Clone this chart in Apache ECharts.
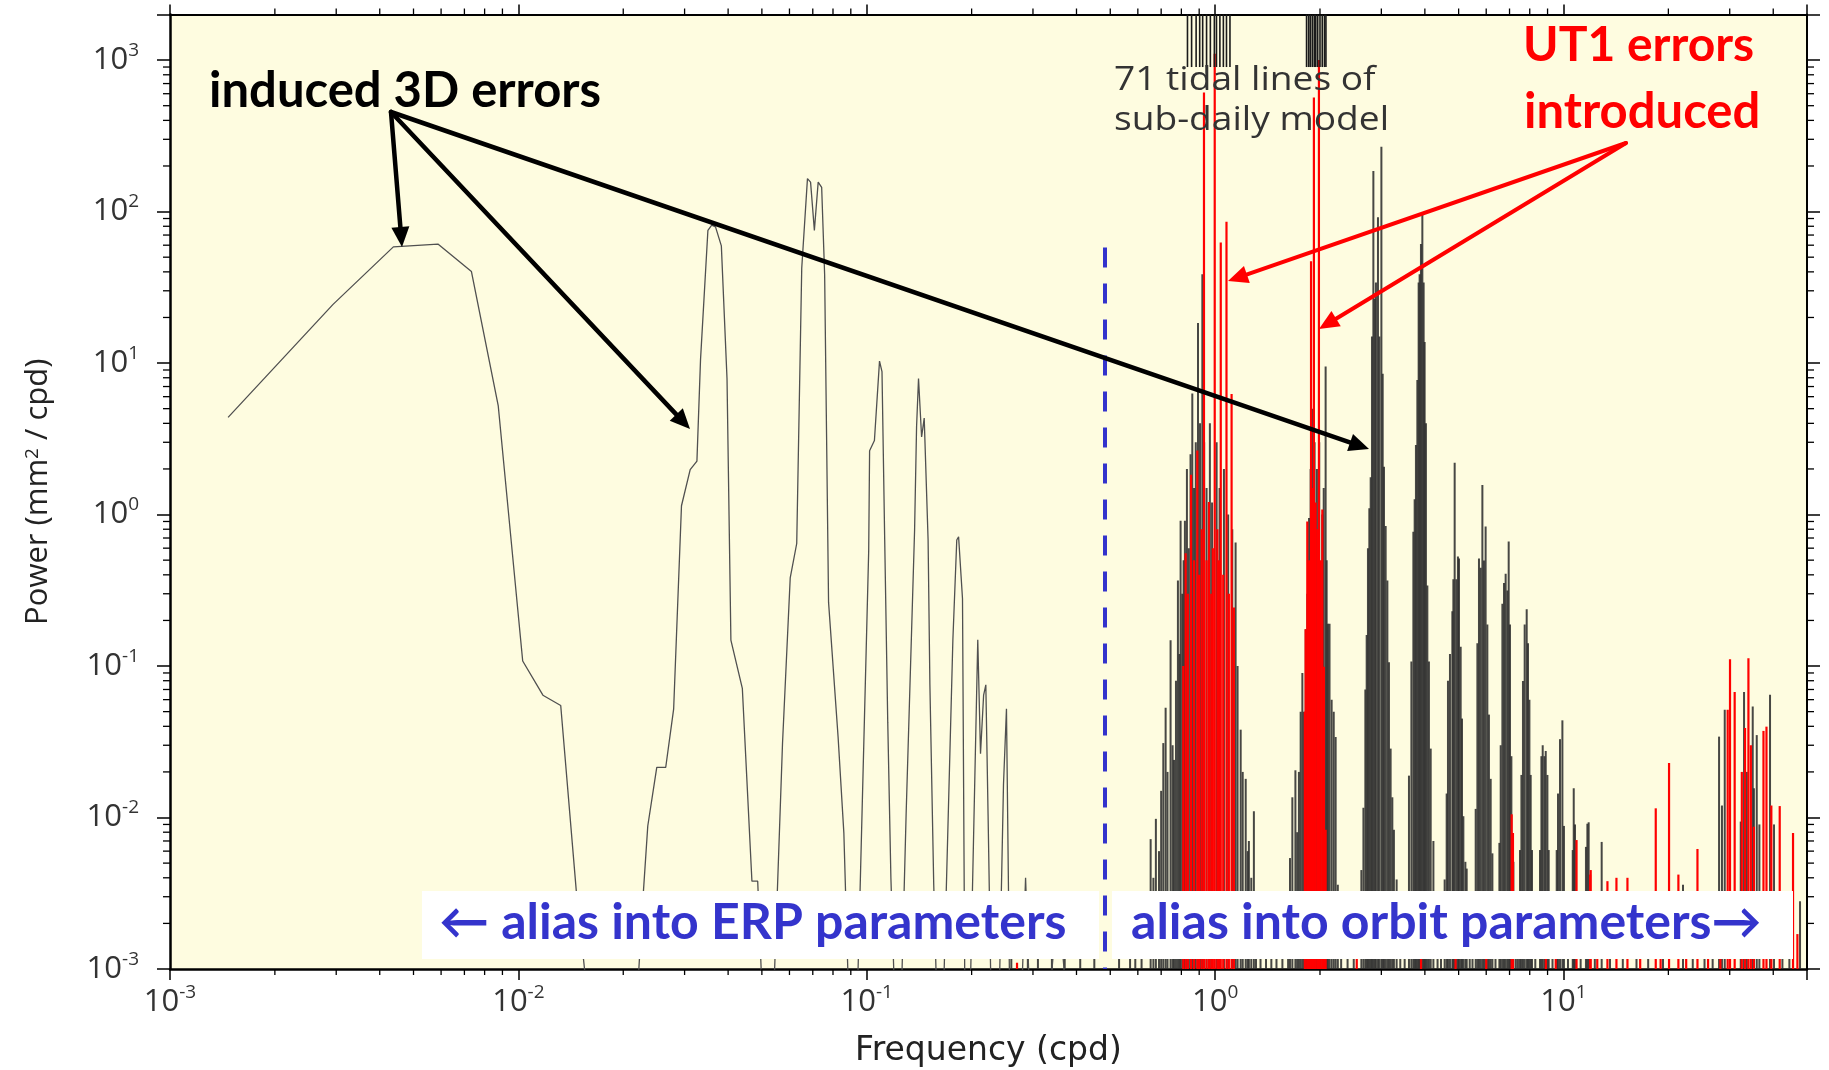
<!DOCTYPE html>
<html>
<head>
<meta charset="utf-8">
<script src="https://cdn.jsdelivr.net/npm/echarts@6/dist/echarts.min.js"></script>
<style>
html,body{margin:0;padding:0;background:#fff;}
#chart{width:1829px;height:1070px;}
</style>
</head>
<body>
<div id="chart"></div>
<script>
// ---------------- data ----------------
// continuous low-frequency spectrum (grey curve): frequency (cpd) and power (mm^2/cpd)
const lowFreq = [0.001468,0.002938,0.004377,0.005876,0.007333,0.008755,0.01029,0.01176,0.01323,0.01467,0.01615,0.0190,0.0215,0.02285,0.02352,0.02496,0.02648,0.02791,0.02939,0.03113,0.03255,0.03333,0.0350,0.03589,0.0368,0.03825,0.03971,0.04074,0.04394,0.04682,0.04864,0.05055,0.05364,0.05731,0.0603,0.06295,0.06507,0.06758,0.06898,0.07074,0.07254,0.07423,0.07571,0.07769,0.08273,0.08596,0.08925,0.09348,0.1013,0.1019,0.1052,0.1088,0.1106,0.1126,0.1149,0.1173,0.121,0.125,0.1297,0.1372,0.139,0.1408,0.1437,0.1462,0.150,0.1518,0.1557,0.1597,0.1651,0.1767,0.1813,0.1835,0.1883,0.1915,0.1972,0.2083,0.2121,0.2165,0.2197,0.2230,0.2282,0.2390,0.2469,0.2518,0.2578,0.2764,0.2857,0.2953,0.33,0.354,0.38];
const lowPower = [4.38,24.4,58.5,61.0,40.2,5.21,0.108,0.0642,0.0549,0.00324,0.0004,0.0001,0.0003,0.00324,0.00879,0.0214,0.0214,0.0522,1.143,1.977,2.253,10.5,75.2,81.4,79.3,59.4,7.91,0.1484,0.0713,0.0038,0.0038,0.0004,0.0004,0.0309,0.3814,0.644,42.3,165,156.6,75.2,156.6,144.7,38.1,0.264,0.0343,0.0079,0.0004,0.0004,0.579,2.64,3.08,10.3,8.79,0.682,0.0423,0.004,0.0004,0.0004,0.0103,0.794,3.80,7.91,3.25,4.33,0.682,0.0751,0.0036,0.0004,0.0004,0.149,0.679,0.714,0.278,0.0004,0.0004,0.149,0.0264,0.0642,0.0751,0.0103,0.0004,0.0004,0.0165,0.0522,0.0004,0.0004,0.004,0.0004,0.0004,0.0032,0.0004];

// dense line spectrum above ~0.6 cpd, grey (3D errors): [frequency, power]
const greyLines = [
 [0.615,0.003],[0.653,0.0072],[0.665,0.004],[0.676,0.0098],[0.69,0.006],[0.70,0.015],[0.71,0.031],[0.721,0.053],[0.73,0.02],[0.745,0.148],[0.755,0.03],[0.762,0.024],[0.772,0.08],[0.782,0.367],[0.79,0.12],[0.796,0.91],[0.805,0.3],[0.812,0.5],[0.819,0.91],[0.83,2.0],[0.84,0.6],[0.85,2.5],[0.86,6.3],[0.87,1.5],[0.88,3.0],[0.893,18.4],[0.905,4.0],[0.919,38.6],[0.93,3.0],[0.945,1.5],[0.966,4.0],[0.98,1.2],[1.01,3.0],[1.03,1.5],[1.06,2.0],[1.09,1.0],[1.12,0.8],[1.145,0.653],[1.16,0.1],[1.184,0.038],[1.2,0.02],[1.224,0.018],[1.24,0.006],[1.25,0.007],[1.27,0.004],[1.292,0.011],[1.31,0.003],
 [1.62,0.003],[1.64,0.0054],[1.666,0.0136],[1.70,0.0205],[1.72,0.008],[1.74,0.02],[1.76,0.05],[1.78,0.09],[1.80,0.05],[1.82,0.175],[1.84,0.3],[1.86,0.95],[1.88,2.0],[1.90,5.0],[1.93,3.0],[1.96,2.0],[1.99,3.0],[2.03,1.0],[2.05,1.5],[2.076,9.5],[2.09,0.5],[2.108,0.19],[2.13,0.19],[2.16,0.06],[2.19,0.05],[2.218,0.034],[2.25,0.0036],
 [2.629,0.0045],[2.665,0.0116],[2.699,0.07],[2.723,0.16],[2.746,0.60],[2.771,1.1],[2.796,1.76],[2.82,15],[2.846,185],[2.871,26.6],[2.895,34],[2.934,91.8],[2.961,15],[3.001,268],[3.027,8.5],[3.053,2.07],[3.087,0.84],[3.122,0.367],[3.155,0.106],[3.19,0.0285],[3.226,0.0136],[3.26,0.0083],[3.319,0.0039],
 [3.601,0.0189],[3.659,0.107],[3.707,0.77],[3.739,1.26],[3.771,2.88],[3.806,7.74],[3.839,34],[3.864,38.6],[3.898,61],[3.934,95.7],[3.968,34],[3.994,13.8],[4.028,4.0],[4.066,0.34],[4.109,0.107],[4.157,0.0285],[4.232,0.007],
 [4.559,0.0039],[4.62,0.0144],[4.66,0.08],[4.722,0.12],[4.797,0.23],[4.829,0.374],[4.871,2.2],[4.925,0.374],[4.977,0.528],[5.012,0.513],[5.068,0.134],[5.112,0.045],[5.159,0.0102],[5.228,0.0051],[5.274,0.0046],
 [5.597,0.0114],[5.66,0.1415],[5.72,0.513],[5.785,0.445],[5.85,1.57],[5.911,0.498],[5.977,0.834],[6.045,0.188],[6.109,0.0478],[6.18,0.018],[6.25,0.0058],
 [6.546,0.0068],[6.603,0.03],[6.677,0.258],[6.749,0.353],[6.823,0.407],[6.901,0.315],[6.961,0.663],[7.021,0.188],[7.086,0.0254],[7.181,0.0051],
 [7.502,0.0061],[7.571,0.0191],[7.65,0.0798],[7.737,0.188],[7.841,0.237],[7.909,0.1415],[7.982,0.0599],[8.051,0.0191],[8.121,0.0061],
 [8.56,0.0061],[8.641,0.0254],[8.716,0.03],[8.814,0.0254],[8.892,0.0275],[8.991,0.0191],[9.069,0.0061],
 [9.561,0.0061],[9.643,0.0144],[9.772,0.0329],[9.927,0.0438],[10.03,0.0088],
 [10.63,0.0061],[10.7,0.0156],[10.79,0.009],
 [11.6,0.0064],[11.71,0.0091],[11.81,0.0093],
 [12.87,0.0069],
 [22.03,0.0036],[27.96,0.0342],[28.5,0.012],[29.03,0.0514],[32.27,0.0094],[32.98,0.0675],[33.6,0.02],[34.93,0.054],[35.2,0.0156],[35.87,0.035],[36.5,0.009],[39.16,0.0646],[40.21,0.009],[44.5,0.003],[47.75,0.0028],
 [0.26,0.0015],[0.29,0.0014],[0.31,0.0016],[0.34,0.0014],[0.37,0.0015],[0.41,0.0014],[0.45,0.0013],[0.53,0.0014],[0.57,0.0016],[0.59,0.0018],[1.35,0.0017],[1.4,0.0015],[1.45,0.0016],[1.5,0.0014],[1.56,0.0015],[2.3,0.0018],[2.4,0.0016],[2.5,0.0015],[3.4,0.0016],[3.5,0.0015],[4.35,0.0016],[4.45,0.0015],[5.38,0.0015],[5.48,0.0016],[6.38,0.0015],[7.3,0.0016],[7.4,0.0015],[8.3,0.0016],[9.3,0.0015],[10.3,0.0016],[11.2,0.0015],[12.3,0.0014],[13.6,0.0015],[14.8,0.0014],[16.2,0.0015],[17.5,0.0014],[19.3,0.0015],[23.5,0.0014],[25.4,0.0015],[26.8,0.0014],[42.5,0.0016]
];

// red line spectrum (UT1 errors introduced): [frequency, power]
const redLines = [
 [0.81,0.1],[0.823,0.555],[0.835,0.3],[0.853,1.83],[0.87,0.5],[0.889,2.65],[0.90,0.4],[0.915,0.8],[0.929,611],[0.945,0.5],[0.96,1.21],[0.975,0.3],[0.985,0.6],[0.9974,1100],[1.015,0.8],[1.025,0.5],[1.038,62.6],[1.055,0.4],[1.078,85.8],[1.095,0.3],[1.115,6.25],[1.132,0.243],
 [1.81,0.05],[1.819,0.175],[1.839,0.9],[1.86,0.5],[1.885,47],[1.90,1.5],[1.921,566],[1.943,1.2],[1.965,0.8],[1.986,1000],[2.009,0.5],[2.031,1.08],[2.053,0.099],[2.076,0.0083],
 [7.1,0.0105],[7.16,0.0079],[10.9,0.0071],[11.92,0.0042],[11.97,0.0045],[13.37,0.0038],[14.19,0.004],[15.26,0.004],[18.4,0.0115],[20.09,0.0229],[21.37,0.0042],[24.24,0.0062],[29.6,0.0514],[30.06,0.111],[31.0,0.0673],[32.5,0.02],[33.2,0.039],[33.95,0.1127],[34.5,0.03],[35.2,0.0087],[37.5,0.0373],[38.25,0.0398],[39.5,0.012],[41.75,0.0119],[45.59,0.0079],[46.93,0.0017],
 [0.27,0.0011],[2.55,0.0015],[3.9,0.0014],[4.9,0.0015],[6.0,0.0014],[8.9,0.0015],[9.5,0.0014],[12.5,0.0015],[16.6,0.0014],[19.0,0.0016],[22.5,0.0015],[26.0,0.0014],[28.2,0.0016]
];

// frequencies of the tidal lines of the sub-daily model (marks along the top)
const tidalLines = [0.833,0.856,0.882,0.903,0.921,0.945,0.969,0.995,1.009,1.032,1.056,1.078,1.103,1.83,1.855,1.875,1.9,1.925,1.945,1.97,2.0,2.03,2.06,2.08];
const tidalMarkEnd = 900;       // power level where the tidal marks stop
const erpOrbitBoundary = 0.483; // blue dashed separator (cpd)
const boundaryTop = 58;         // power level where the dashed line starts

// axis ranges and minor tick values
const xMin = 0.001, xMax = 50, yMin = 0.001, yMax = 2000;
const xMinorTicks = [0.002,0.003,0.004,0.005,0.006,0.007,0.008,0.009,0.02,0.03,0.04,0.05,0.06,0.07,0.08,0.09,0.2,0.3,0.4,0.5,0.6,0.7,0.8,0.9,2,3,4,5,6,7,8,9,20,30,40];
const yMinorTicks = [0.002,0.003,0.004,0.005,0.006,0.007,0.008,0.009,0.02,0.03,0.04,0.05,0.06,0.07,0.08,0.09,0.2,0.3,0.4,0.5,0.6,0.7,0.8,0.9,2,3,4,5,6,7,8,9,20,30,40,50,60,70,80,90,200,300,400,500,600,700,800,900];

// ---------------- chart ----------------
const chart = echarts.init(document.getElementById('chart'), null, {renderer: 'canvas'});

const tickFont = 'Open Sans';
function powLabel(v) {
  const l = Math.log10(v), r = Math.round(l);
  if (Math.abs(l - r) > 1e-6) return '';
  return '{b|10}{s|' + r + '}';
}
const labelRich = {
  b: {fontFamily: tickFont, fontSize: 31, color: '#333', lineHeight: 38},
  s: {fontFamily: tickFont, fontSize: 19, color: '#333', lineHeight: 22, verticalAlign: 'top'}
};

function stems(color, width) {
  return function (params, api) {
    const cs = params.coordSys;
    const top = api.coord([api.value(0), api.value(1)]);
    return {type: 'line', silent: true,
      shape: {x1: top[0], y1: Math.max(top[1], cs.y), x2: top[0], y2: cs.y + cs.height},
      style: {stroke: color, lineWidth: width}};
  };
}

function arrow(x1, y1, x2, y2, color, w, L, H) {
  const dx = x2 - x1, dy = y2 - y1, len = Math.hypot(dx, dy), ux = dx / len, uy = dy / len;
  const bx = x2 - ux * L, by = y2 - uy * L;
  return [
    {type: 'line', z: 100, silent: true, shape: {x1: x1, y1: y1, x2: bx + ux * 2, y2: by + uy * 2}, style: {stroke: color, lineWidth: w, lineCap: 'round'}},
    {type: 'polygon', z: 100, silent: true, shape: {points: [[x2, y2], [bx - uy * H, by + ux * H], [bx + uy * H, by - ux * H]]}, style: {fill: color}}
  ];
}

const boldFont = 'Lato';
const graphics = [
  {type: 'rect', z: 90, silent: true, shape: {x: 422, y: 891, width: 677, height: 68}, style: {fill: '#fff'}},
  {type: 'rect', z: 90, silent: true, shape: {x: 1112, y: 891, width: 681, height: 68}, style: {fill: '#fff'}},
  {type: 'text', z: 100, x: 439, y: 923, style: {text: '\u2190 alias into ERP parameters', fontFamily: boldFont, fontWeight: 'bold', fontSize: 50, fill: '#3434CC', verticalAlign: 'middle'}},
  {type: 'text', z: 100, x: 1131, y: 923, style: {text: 'alias into orbit parameters\u2192', fontFamily: boldFont, fontWeight: 'bold', fontSize: 50, fill: '#3434CC', verticalAlign: 'middle'}},
  {type: 'text', z: 100, x: 209, y: 91, style: {text: 'induced 3D errors', fontFamily: boldFont, fontWeight: 'bold', fontSize: 49, fill: '#000', verticalAlign: 'middle'}},
  {type: 'text', z: 100, x: 1523, y: 46, style: {text: 'UT1 errors', fontFamily: boldFont, fontWeight: 'bold', fontSize: 48, fill: '#FF0000', verticalAlign: 'middle'}},
  {type: 'text', z: 100, x: 1524, y: 112, style: {text: 'introduced', fontFamily: boldFont, fontWeight: 'bold', fontSize: 49, fill: '#FF0000', verticalAlign: 'middle'}},
  {type: 'text', z: 80, x: 1114, y: 81, scaleX: 1.16, style: {text: '71 tidal lines of', fontFamily: tickFont, fontSize: 32, fill: '#333', verticalAlign: 'middle'}},
  {type: 'text', z: 80, x: 1114, y: 121, scaleX: 1.16, style: {text: 'sub-daily model', fontFamily: tickFont, fontSize: 32, fill: '#333', verticalAlign: 'middle'}}
]
.concat(arrow(391, 112, 402, 247, '#000', 4.5, 20, 9))
.concat(arrow(391, 112, 690, 429, '#000', 4.5, 20, 9))
.concat(arrow(391, 112, 1369, 449, '#000', 4.5, 20, 9))
.concat(arrow(1626, 143, 1228, 281, '#FF0000', 4, 20, 9))
.concat(arrow(1626, 143, 1319, 329, '#FF0000', 4, 20, 9));

const axisLineStyle = {color: '#000', width: 2.5};
const tickStyle = {color: '#000', width: 1.5};

const option = {
  animation: false,
  backgroundColor: '#fff',
  grid: {left: 170, right: 22, top: 14.5, bottom: 101, show: true, backgroundColor: '#FEFCE0', borderWidth: 0,
         containLabel: false, outerBoundsMode: 'none'},
  xAxis: [
    {type: 'log', logBase: 10, min: xMin, max: xMax, position: 'bottom',
     axisLine: {show: true, onZero: false, lineStyle: axisLineStyle},
     axisTick: {show: true, length: 11, lineStyle: tickStyle},
     axisLabel: {formatter: powLabel, rich: labelRich, margin: 14, fontSize: 31, fontFamily: tickFont, color: '#333'},
     splitLine: {show: false},
     name: 'Frequency (cpd)', nameLocation: 'middle', nameGap: 66,
     nameTextStyle: {fontFamily: 'DejaVu Sans', fontSize: 33, color: '#222'}},
    {type: 'log', logBase: 10, min: xMin, max: xMax, position: 'top',
     axisLine: {show: true, onZero: false, lineStyle: {color: '#000', width: 2}},
     axisTick: {show: true, length: 10, lineStyle: tickStyle},
     axisLabel: {show: false}, splitLine: {show: false}}
  ],
  yAxis: [
    {type: 'log', logBase: 10, min: yMin, max: yMax, position: 'left',
     axisLine: {show: true, onZero: false, lineStyle: axisLineStyle},
     axisTick: {show: true, length: 13, lineStyle: tickStyle},
     axisLabel: {formatter: powLabel, rich: labelRich, margin: 31, fontSize: 31, fontFamily: tickFont, color: '#333'},
     splitLine: {show: false},
     name: 'Power (mm{s|2} / cpd)', nameLocation: 'middle', nameGap: 116,
     nameTextStyle: {fontFamily: tickFont, fontSize: 31, color: '#222',
       rich: {s: {fontFamily: tickFont, fontSize: 19, color: '#222', verticalAlign: 'top', lineHeight: 20}}}},
    {type: 'log', logBase: 10, min: yMin, max: yMax, position: 'right',
     axisLine: {show: true, onZero: false, lineStyle: {color: '#000', width: 2}},
     axisTick: {show: true, length: 13, lineStyle: tickStyle},
     axisLabel: {show: false}, splitLine: {show: false}}
  ],
  series: [
    {type: 'line', name: 'low-frequency spectrum', data: lowFreq.map((f, i) => [f, lowPower[i]]),
     showSymbol: false, symbol: 'none', clip: true, z: 3,
     lineStyle: {color: '#505050', width: 1.3},
     markLine: {silent: true, symbol: ['none', 'none'], label: {show: false},
       lineStyle: {color: '#3333CC', width: 4, type: [20, 16]},
       data: [[{coord: [erpOrbitBoundary, boundaryTop]}, {coord: [erpOrbitBoundary, yMin]}]]}},
    {type: 'custom', name: '3D errors', data: greyLines, z: 3, renderItem: stems('rgba(45,45,45,0.88)', 2)},
    {type: 'custom', name: 'UT1 errors', data: redLines, z: 4, renderItem: stems('#FF0000', 2.2)},
    {type: 'custom', name: 'tidal lines', data: tidalLines.map(f => [f, tidalMarkEnd]), z: 5,
     renderItem: function (params, api) {
       const cs = params.coordSys;
       const p = api.coord([api.value(0), api.value(1)]);
       return {type: 'line', silent: true, shape: {x1: p[0], y1: cs.y, x2: p[0], y2: p[1]}, style: {stroke: '#1a1a1a', lineWidth: 1.6}};
     }},
    {type: 'custom', name: 'x minor ticks', data: xMinorTicks.map(v => [v, 1]), z: 6, clip: false,
     renderItem: function (params, api) {
       const cs = params.coordSys;
       const p = api.coord([api.value(0), 1]);
       return {type: 'group', children: [
         {type: 'line', silent: true, shape: {x1: p[0], y1: cs.y + cs.height, x2: p[0], y2: cs.y + cs.height + 6}, style: {stroke: '#000', lineWidth: 1.3}},
         {type: 'line', silent: true, shape: {x1: p[0], y1: cs.y, x2: p[0], y2: cs.y - 6}, style: {stroke: '#000', lineWidth: 1.3}}
       ]};
     }},
    {type: 'custom', name: 'y minor ticks', data: yMinorTicks.map(v => [1, v]), z: 6, clip: false,
     renderItem: function (params, api) {
       const cs = params.coordSys;
       const p = api.coord([1, api.value(1)]);
       return {type: 'group', children: [
         {type: 'line', silent: true, shape: {x1: cs.x, y1: p[1], x2: cs.x - 7, y2: p[1]}, style: {stroke: '#000', lineWidth: 1.3}},
         {type: 'line', silent: true, shape: {x1: cs.x + cs.width, y1: p[1], x2: cs.x + cs.width + 7, y2: p[1]}, style: {stroke: '#000', lineWidth: 1.3}}
       ]};
     }}
  ],
  graphic: graphics
};
chart.setOption(option);
</script>
</body>
</html>
